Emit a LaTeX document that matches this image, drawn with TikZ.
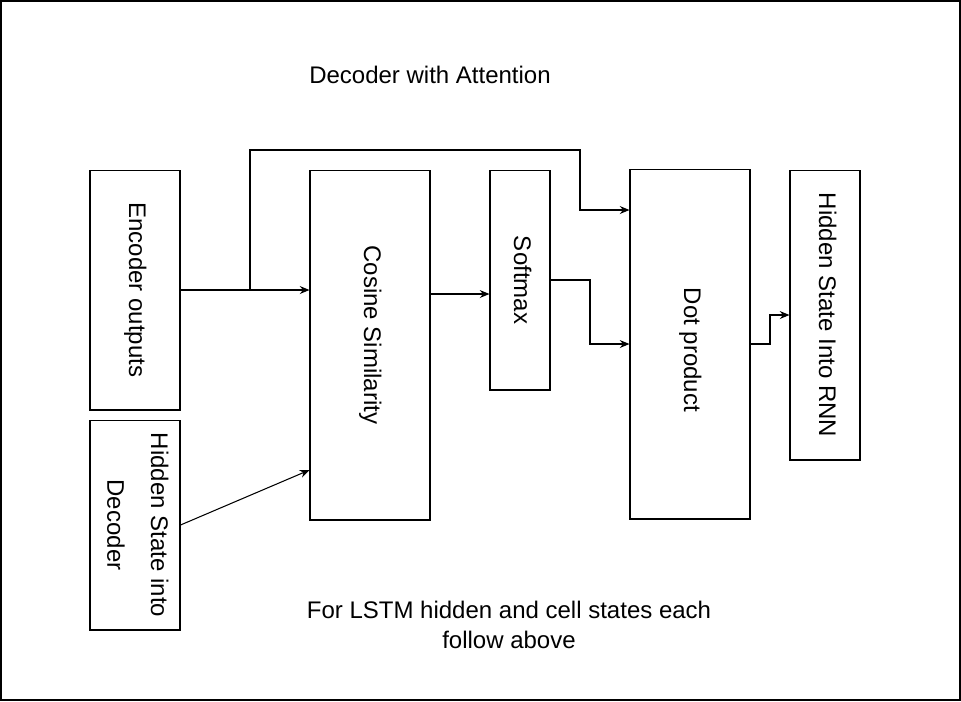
\documentclass[tikz,border=0pt]{standalone}
\usepackage{fontspec}
\setmainfont{Liberation Sans}
\usepackage{graphicx}
\usetikzlibrary{arrows.meta}
\usetikzlibrary{calc}
\newcommand{\vtext}[1]{\rotatebox{-90}{\begin{tabular}{@{}c@{}}#1\end{tabular}}}

\begin{document}
\begin{tikzpicture}[x=0.02cm, y=-0.02cm,
  box/.style={draw, line width=0.6pt, inner sep=0pt, font=\fontsize{13.66}{16.4}\selectfont},
  arr/.style={-{Stealth[length=5.5pt,width=4.5pt]}, line width=0.6pt},
  lbl/.style={font=\fontsize{13.66}{17}\selectfont, align=center}]
\useasboundingbox (0,0) rectangle (961,701);
\draw[line width=1.2pt] (1,1) rectangle (960,700);
\node (title) at (430,75) [lbl]{Decoder with Attention};
\node (enc) at (135,290) [box, minimum width=1.8cm, minimum height=4.8cm]{\vtext{Encoder outputs}};
\node (hid) at (135,525) [box, minimum width=1.8cm, minimum height=4.2cm]{\vtext{Hidden State into\\[8.6pt]Decoder}};
\node (cos) at (370,345) [box, minimum width=2.4cm, minimum height=7cm]{\vtext{Cosine Similarity\hspace*{0.4cm}}};
\node (soft) at (520,280) [box, minimum width=1.2cm, minimum height=4.4cm]{\vtext{Softmax}};
\node (dot) at (690,344) [box, minimum width=2.4cm, minimum height=7cm]{\vtext{\hspace*{0.24cm}Dot product}};
\node (rnn) at (825,315) [box, minimum width=1.4cm, minimum height=5.8cm]{\vtext{Hidden State Into RNN}};
\node (note) at (509,625) [lbl]{For LSTM hidden and cell states each\\follow above};
% connectors
\coordinate (br) at (250,290);
\coordinate (jt) at (580,150);
\draw[arr] (enc.east) -- (enc.east -| cos.west);
\draw[arr] (br) |- (jt) |- (dot.west |- 0,210);
\draw[arr] (hid.east) -- (cos.west |- 0,470);
\draw[arr] (cos.east |- 0,294) -- (soft.west |- 0,294);
\draw[arr] (soft.east) -| ($(soft.east)!.5!(dot.west)$) |- (dot.west);
\draw[arr] (dot.east) -| ($(dot.east)!.5!(rnn.west)$) |- (rnn.west);
\end{tikzpicture}
\end{document}
